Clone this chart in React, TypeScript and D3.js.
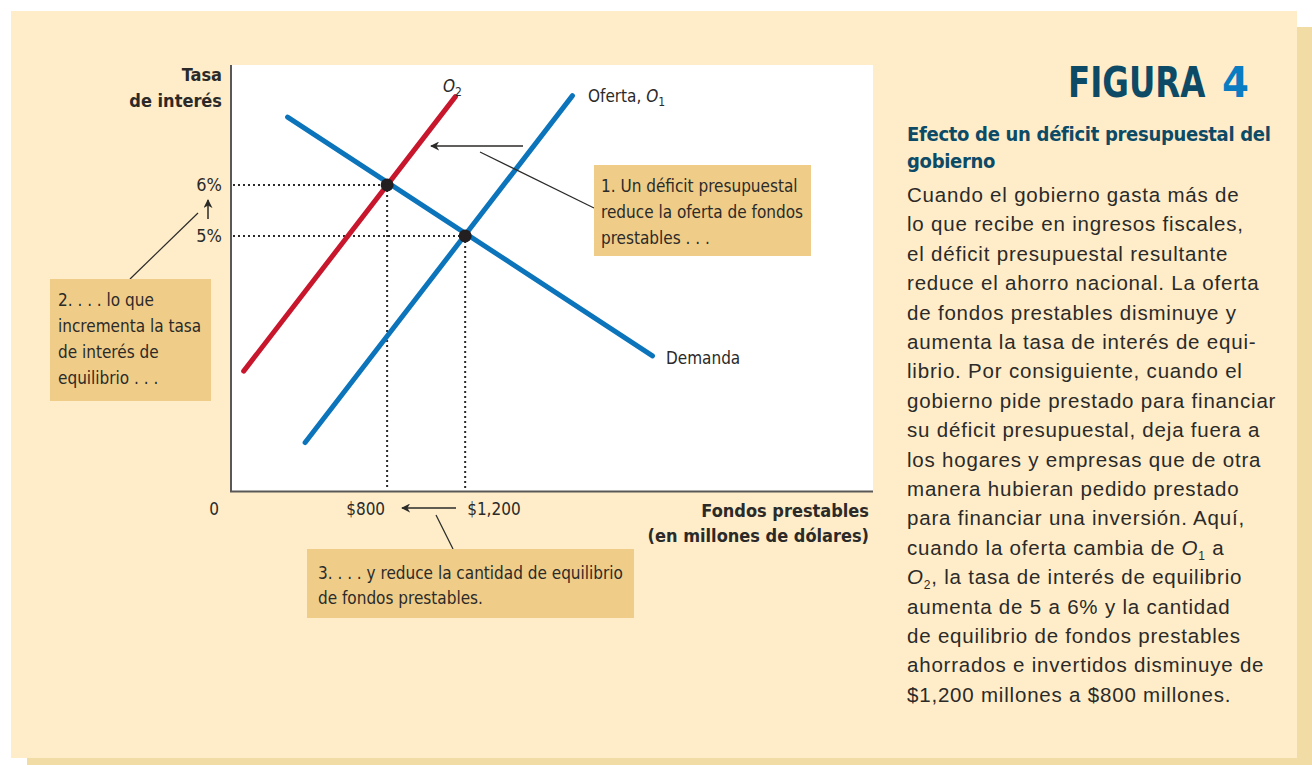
import React from "react";
import * as d3 from "d3";

const W = 1312;
const H = 765;

// Data (quantity in millions of dollars, interest rate in %)
const demandCurve = [
  { q: 290, r: 7.33 },
  { q: 2160, r: 2.65 },
];
const supplyO1 = [
  { q: 380, r: 0.95 },
  { q: 1750, r: 7.75 },
];
const supplyO2 = [
  { q: 65, r: 2.35 },
  { q: 1150, r: 7.73 },
];
const equilibria = [
  { q: 800, r: 6 },
  { q: 1200, r: 5 },
];
const rateTicks = [
  { r: 6, label: "6%" },
  { r: 5, label: "5%" },
];
const qtyTicks = [
  { q: 800, label: "$800", anchor: "end" },
  { q: 1200, label: "$1,200", anchor: "start" },
];
const bodyLines = [
  "Cuando el gobierno gasta más de",
  "lo que recibe en ingresos fiscales,",
  "el déficit presupuestal resultante",
  "reduce el ahorro nacional. La oferta",
  "de fondos prestables disminuye y",
  "aumenta la tasa de interés de equi-",
  "librio. Por consiguiente, cuando el",
  "gobierno pide prestado para financiar",
  "su déficit presupuestal, deja fuera a",
  "los hogares y empresas que de otra",
  "manera hubieran pedido prestado",
  "para financiar una inversión. Aquí,",
];
const bodyLinesEnd = [
  "aumenta de 5 a 6% y la cantidad",
  "de equilibrio de fondos prestables",
  "ahorrados e invertidos disminuye de",
  "$1,200 millones a $800 millones.",
];
const note1 = ["1. Un déficit presupuestal", "reduce la oferta de fondos", "prestables . . ."];
const note2 = ["2. . . . lo que", "incrementa la tasa", "de interés de", "equilibrio . . ."];
const note3 = ["3. . . . y reduce la cantidad de equilibrio", "de fondos prestables."];

const COND = "'Liberation Sans Narrow', 'DejaVu Sans Condensed', 'Roboto Condensed', sans-serif";
const SANS = "'Liberation Sans', Arial, sans-serif";
const BLUE = "#0b74bb";
const RED = "#c8162c";
const INK = "#2b2a29";
const CREAM = "#feedc8";
const SHADOW = "#f2dca6";
const BOX = "#efcd88";

const x = d3.scaleLinear().domain([0, 3290]).range([231, 873]);
const y = d3.scaleLinear().domain([0, 8.35]).range([491, 65]);
const line = d3
  .line<{ q: number; r: number }>()
  .x((d) => x(d.q))
  .y((d) => y(d.r));

export default function App() {
  const bodyY0 = 202;
  const lh = 29.4;
  return (
    <svg
      width={W}
      height={H}
      style={{ position: "absolute", left: 0, top: 0, background: "#fff" }}
    >
      <defs>
        <marker id="ah" viewBox="0 0 10 10" refX="9" refY="5" markerWidth="9" markerHeight="9" markerUnits="userSpaceOnUse" orient="auto">
          <path d="M0,0 L10,5 L0,10 L3,5 Z" fill={INK} />
        </marker>
      </defs>
      {/* panel shadow + panel */}
      <rect x={27} y={27} width={W - 27} height={H - 27} fill={SHADOW} />
      <rect x={11} y={11} width={1286} height={747} fill={CREAM} />
      {/* plot area */}
      <rect x={231} y={65} width={642} height={426} fill="#fff" />

      {/* dotted guides */}
      {equilibria.map((d, i) => (
        <g key={i} stroke={INK} strokeWidth={2} strokeDasharray="2,3" fill="none">
          <line x1={233} x2={x(d.q)} y1={y(d.r)} y2={y(d.r)} />
          <line x1={x(d.q)} x2={x(d.q)} y1={y(d.r)} y2={490} />
        </g>
      ))}

      {/* curves */}
      <path d={line(demandCurve) || ""} stroke={BLUE} strokeWidth={5} fill="none" strokeLinecap="round" />
      <path d={line(supplyO1) || ""} stroke={BLUE} strokeWidth={5} fill="none" strokeLinecap="round" />
      <path d={line(supplyO2) || ""} stroke={RED} strokeWidth={5} fill="none" strokeLinecap="round" />
      {equilibria.map((d, i) => (
        <circle key={i} cx={x(d.q)} cy={y(d.r)} r={6.5} fill="#231f20" />
      ))}

      {/* axes */}
      <line x1={231} x2={231} y1={65} y2={492} stroke="#5a5856" strokeWidth={2} />
      <line x1={230} x2={873} y1={491.5} y2={491.5} stroke="#5a5856" strokeWidth={2} />

      {/* axis labels */}
      <g fontFamily={COND} fill={INK}>
        <text x={222} y={81} textAnchor="end" fontWeight="bold" fontSize={18}>Tasa</text>
        <text x={222} y={107} textAnchor="end" fontWeight="bold" fontSize={18}>de interés</text>
        {rateTicks.map((t) => (
          <text key={t.label} x={222} y={y(t.r) + 6} textAnchor="end" fontSize={18}>{t.label}</text>
        ))}
        <text x={214} y={515} textAnchor="middle" fontSize={17}>0</text>
        {qtyTicks.map((t) => (
          <text key={t.label} x={x(t.q) + (t.anchor === "end" ? -2 : 2)} y={515} textAnchor={t.anchor as any} fontSize={17}>{t.label}</text>
        ))}
        <text x={869} y={517} textAnchor="end" fontWeight="bold" fontSize={18}>Fondos prestables</text>
        <text x={869} y={542} textAnchor="end" fontWeight="bold" fontSize={18}>(en millones de dólares)</text>

        {/* curve labels */}
        <text x={443} y={92} fontSize={17} fontStyle="italic">O<tspan fontStyle="normal" fontSize={12} dy={4}>2</tspan></text>
        <text x={588} y={102} fontSize={17}>Oferta, <tspan fontStyle="italic">O</tspan><tspan fontSize={12} dy={4}>1</tspan></text>
        <text x={666} y={364} fontSize={17}>Demanda</text>
      </g>

      {/* arrows */}
      <g stroke={INK} strokeWidth={1.5} fill="none">
        <line x1={208} y1={219} x2={208} y2={200} markerEnd="url(#ah)" />
        <line x1={523} y1={146} x2={431} y2={146} markerEnd="url(#ah)" />
        <line x1={456} y1={508} x2={402} y2={508} markerEnd="url(#ah)" />
      </g>
      {/* leader lines */}
      <g stroke={INK} strokeWidth={1.2}>
        <line x1={594} y1={208} x2={480} y2={152} />
        <line x1={130} y1={279} x2={198} y2={213} />
        <line x1={453} y1={549} x2={436} y2={515} />
      </g>

      {/* annotation boxes */}
      <rect x={594} y={165} width={217} height={91} fill={BOX} />
      <rect x={50} y={279} width={161} height={122} fill={BOX} />
      <rect x={307} y={549} width={327} height={69} fill={BOX} />
      <g fontFamily={COND} fill={INK} fontSize={17}>
        {note1.map((t, i) => (
          <text key={i} x={601} y={192 + i * 26}>{t}</text>
        ))}
        {note2.map((t, i) => (
          <text key={i} x={58} y={306 + i * 26}>{t}</text>
        ))}
        {note3.map((t, i) => (
          <text key={i} x={318} y={579 + i * 25}>{t}</text>
        ))}
      </g>

      {/* right panel */}
      <g transform="translate(1068,97) scale(0.84,1)">
        <text x={0} y={0} fontFamily={COND} fontWeight="bold" fontSize={43} fill="#0d4a66">FIGURA</text>
      </g>
      <g transform="translate(1222,97) scale(1,1)">
        <text x={0} y={0} fontFamily={COND} fontWeight="bold" fontSize={43} fill="#0a7cc1">4</text>
      </g>
      <g fontFamily={COND} fontWeight="bold" fontSize={20} fill="#0d4a66" letterSpacing={-0.3}>
        <text x={907} y={141}>Efecto de un déficit presupuestal del</text>
        <text x={907} y={168}>gobierno</text>
      </g>
      <g fontFamily={SANS} fontSize={20.5} fill={INK} letterSpacing={0.8}>
        {bodyLines.map((t, i) => (
          <text key={i} x={907} y={bodyY0 + i * lh}>{t}</text>
        ))}
        <text x={907} y={bodyY0 + 12 * lh}>
          cuando la oferta cambia de <tspan fontStyle="italic">O</tspan>
          <tspan fontSize={12} dy={5}>1</tspan>
          <tspan dy={-5}> a</tspan>
        </text>
        <text x={907} y={bodyY0 + 13 * lh}>
          <tspan fontStyle="italic">O</tspan>
          <tspan fontSize={12} dy={5}>2</tspan>
          <tspan dy={-5}>, la tasa de interés de equilibrio</tspan>
        </text>
        {bodyLinesEnd.map((t, i) => (
          <text key={i} x={907} y={bodyY0 + (14 + i) * lh}>{t}</text>
        ))}
      </g>
    </svg>
  );
}
